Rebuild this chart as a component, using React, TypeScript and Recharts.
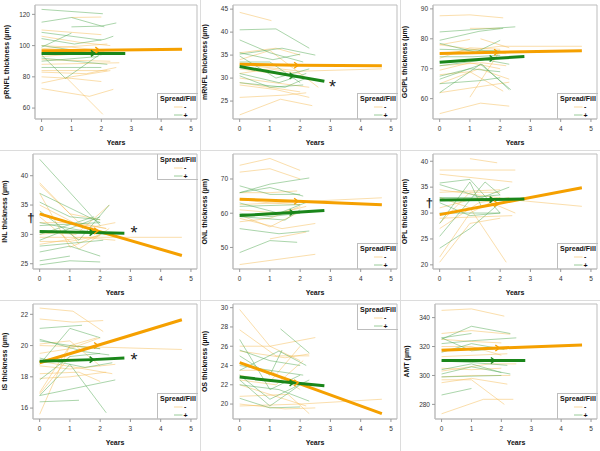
import React from 'react';
import { LineChart, Line, XAxis, YAxis, ReferenceArea, ReferenceDot } from 'recharts';

const FONT = '"Liberation Sans", Arial, sans-serif';
const years = [0, 1, 2, 3, 4, 5];
const xDomain: [number, number] = [-0.22, 5.2];

// ---------- pRNFL ----------
const prnflTicks = [60, 80, 100, 120];
const prnflOrange = [
  [1.0, 118, 2.0, 118.3],
  [0, 110, 2.0, 107],
  [0, 106, 1.3, 102, 2.3, 100],
  [0, 98, 2.2, 101],
  [0, 93, 2.1, 96],
  [0, 91, 2.3, 90],
  [0, 88, 2.6, 89],
  [0, 83, 1.5, 82, 2.5, 86],
  [0, 80, 1.0, 79, 2.0, 77],
  [0, 76, 1.0, 80, 2.3, 84],
  [0, 72.5, 1.6, 67.5, 2.4, 72],
  [0.8, 80, 2.05, 56],
  [0, 84, 1.2, 84, 2.2, 84],
  [0, 100, 1.0, 99, 2.0, 97],
];
const prnflGreen = [
  [0, 123.2, 2.05, 120.4],
  [0, 115, 1.0, 118, 2.1, 112],
  [1.0, 112, 2.0, 112.5, 2.5, 114.5],
  [0, 108.5, 2.0, 103.5],
  [0, 104.5, 1.1, 101, 2.1, 104, 2.4, 106],
  [0, 99, 1.0, 108],
  [0, 94, 0.8, 79, 2.0, 95],
  [0, 86, 1.5, 86, 2.0, 86],
  [0, 92, 2.2, 88],
  [0, 95, 1.7, 95.5, 2.3, 95],
  [0, 100, 1.1, 97, 2.0, 94],
  [0, 90, 1.9, 93],
];
const prnflFitOrange = [0, 96.7, 1.9, 97.1, 4.7, 97.6];
const prnflFitGreen = [0, 95, 1.75, 95, 2.8, 95];

// ---------- mRNFL ----------
const mrnflTicks = [25, 30, 35, 40, 45];
const mrnflOrange = [
  [0, 44.3, 1.05, 42.5],
  [0, 35.5, 1.2, 36.5, 2.0, 35],
  [0, 33, 2.0, 31.5, 4.7, 32],
  [0, 30, 2.3, 28],
  [0, 29, 1.0, 28, 2.0, 27],
  [0, 28.5, 1.2, 27.5, 2.3, 25.8],
  [0, 25.8, 1.5, 26.3, 2.2, 26.8],
  [0, 22, 1.35, 25.4, 2.4, 24],
  [0, 34, 1.0, 36, 2.6, 28],
  [0, 31, 1.0, 32, 2.0, 31],
  [0, 32, 2.3, 30],
];
const mrnflGreen = [
  [0, 40.5, 1.2, 40.7, 2.3, 36.5],
  [0, 38.3, 1.0, 35.5, 2.1, 33.5],
  [0, 35.2, 1.4, 36.5, 2.5, 35],
  [0, 35.5, 1.1, 34, 2.0, 35.2],
  [0, 34.8, 1.2, 30, 2.3, 32],
  [0, 33.5, 1.0, 33.5, 2.0, 29],
  [0, 31, 1.3, 29, 2.2, 31],
  [0, 30.5, 1.0, 28, 2.1, 28.5],
  [0, 29, 1.5, 28, 2.2, 30],
];
const mrnflFitOrange = [0, 33.0, 1.9, 32.8, 4.7, 32.7];
const mrnflFitGreen = [0, 32.5, 1.75, 30.5, 2.8, 29.3];

// ---------- GCIPL ----------
const gcplTicks = [60, 70, 80, 90];
const gcplOrange = [
  [0, 87.7, 1.0, 88, 2.1, 87],
  [0, 78, 1.0, 79.8],
  [1.0, 83.5, 2.0, 83.5],
  [0, 75, 2.0, 77.5, 4.7, 77.5],
  [1.35, 80, 2.3, 77],
  [0, 73.5, 1.0, 77, 2.0, 76.5],
  [0, 78, 2.2, 75],
  [0, 71, 1.4, 72, 2.2, 71],
  [0, 68, 1.0, 69, 2.1, 62.5],
  [0, 65, 1.3, 70, 2.3, 66.5],
  [0, 62, 2.3, 65.5],
  [0, 55, 1.35, 58.5, 2.3, 57.5],
  [1.0, 60.5, 2.0, 76],
  [0, 69.5, 1.0, 72, 2.0, 70],
];
const gcplGreen = [
  [0, 82.3, 1.0, 83, 2.5, 84],
  [0, 79.5, 1.3, 82.5, 2.1, 83.5],
  [0, 78.5, 1.2, 75.5, 2.0, 79.5],
  [0, 76.5, 2.0, 76],
  [0, 71, 1.5, 73, 2.3, 71.5],
  [0, 67.5, 1.0, 70, 2.0, 69],
  [0, 66.5, 1.4, 71.5, 2.3, 63],
  [0, 62, 1.35, 71.5, 2.35, 63],
  [0, 65, 1.3, 66, 2.0, 67],
  [0, 74, 1.1, 74, 2.0, 74.5],
];
const gcplFitOrange = [0, 75.1, 1.9, 75.5, 4.7, 76.0];
const gcplFitGreen = [0, 72.2, 1.75, 73.4, 2.8, 74.1];

// ---------- INL ----------
const inlTicks = [25, 30, 35, 40];
const inlOrange = [
  [0, 38.8, 1.0, 33.5, 2.0, 32.5],
  [0, 38.5, 1.3, 32, 2.2, 31],
  [0, 37, 1.0, 27.8, 2.0, 30],
  [0, 35, 1.5, 31, 2.5, 32],
  [0, 33, 1.3, 27.5, 2.3, 31],
  [0, 30.5, 1.2, 30, 2.3, 35],
  [0, 29.5, 2.0, 29.5, 4.7, 29.5],
  [0, 28.8, 1.0, 28.8, 2.0, 29.8],
  [0, 28.3, 1.4, 29.5, 2.5, 29],
  [0, 30, 1.0, 30.5, 1.3, 28.3],
  [0, 32, 1.0, 32, 2.2, 31],
];
const inlGreen = [
  [0, 42.8, 2.0, 31.5],
  [0, 37, 2.0, 32],
  [0, 35.5, 1.0, 33, 2.0, 32.5],
  [0, 34, 1.3, 29, 2.3, 35],
  [0, 32, 1.0, 31, 2.0, 33],
  [0, 31.5, 2.0, 32],
  [0, 30, 1.8, 33],
  [0, 28, 2.1, 29],
  [0, 27, 1.0, 28, 2.0, 26.3],
  [0, 25.5, 1.0, 26.3],
  [0, 24.8, 1.0, 25.5, 2.0, 25.3],
  [0, 29, 1.0, 31, 2.2, 30],
];
const inlFitOrange = [0, 33.5, 1.9, 30.6, 4.7, 26.4];
const inlFitGreen = [0, 30.5, 1.75, 30.3, 2.8, 30.2];

// ---------- ONL ----------
const onlTicks = [50, 60, 70];
const onlOrange = [
  [0, 74, 1.0, 76, 2.0, 72.5],
  [0, 72, 1.0, 73, 2.0, 70],
  [0, 66, 1.0, 66, 1.9, 66.5],
  [0, 64, 1.0, 63, 2.0, 62.5],
  [0, 62.5, 2.3, 63.5, 4.7, 64.5],
  [0, 61, 1.3, 60, 2.2, 62],
  [0, 59.5, 1.0, 56, 2.0, 60.5],
  [0, 57.5, 1.0, 58.5, 2.0, 62],
  [0, 58.5, 1.4, 55.5, 2.5, 57],
  [0, 45, 2.5, 48],
  [1.0, 52.5, 2.2, 54.5],
];
const onlGreen = [
  [0, 68, 1.0, 65.5, 2.0, 65.5],
  [0, 66, 1.0, 67.5, 2.1, 65],
  [0, 66, 1.0, 68.5, 2.3, 70.3],
  [0, 63, 1.3, 60, 2.3, 63.5],
  [0, 62, 2.0, 62.5],
  [0, 59, 1.5, 58, 2.0, 61],
  [0, 55.5, 1.3, 54, 2.3, 54.8],
  [0, 48.5, 1.0, 52, 1.9, 51.5],
  [0, 60, 1.0, 59, 2.0, 60],
];
const onlFitOrange = [0, 64.1, 1.9, 63.5, 4.7, 62.5];
const onlFitGreen = [0, 59.3, 1.75, 60.2, 2.8, 60.8];

// ---------- OPL ----------
const oplTicks = [20, 25, 30, 35, 40];
const oplOrange = [
  [1.0, 40.5, 1.9, 39.7],
  [0, 38.3, 2.5, 38.3],
  [0, 37.5, 2.4, 36],
  [0, 34.5, 2.5, 32.5, 4.7, 31.3],
  [0, 34, 2.0, 34.5],
  [0, 31, 1.3, 33, 2.5, 30],
  [0, 29, 2.4, 29.5],
  [0, 28, 1.0, 34, 2.0, 34],
  [0, 21.5, 1.0, 30, 2.0, 33],
  [0, 20.5, 1.0, 28, 2.0, 29],
  [0, 33, 1.0, 31, 2.2, 20.5],
  [0, 27, 1.3, 32, 2.3, 33],
];
const oplGreen = [
  [0, 35.8, 1.0, 36.5, 2.0, 30],
  [0, 35.5, 1.4, 33, 2.3, 35],
  [0, 33, 1.0, 33, 2.0, 33.5],
  [0, 28, 1.0, 36, 1.4, 31],
  [0, 25.5, 1.5, 36, 2.0, 33.5],
  [0, 23.2, 1.0, 27, 2.0, 32],
  [0, 30, 2.0, 30],
  [0, 32, 1.0, 29.5, 2.0, 30],
];
const oplFitOrange = [0, 29.7, 1.9, 31.8, 4.7, 34.9];
const oplFitGreen = [0, 32.5, 1.75, 32.6, 2.8, 32.7];

// ---------- IS ----------
const isTicks = [16, 18, 20, 22];
const isOrange = [
  [0, 22.4, 1.1, 22.2, 2.1, 20.9],
  [0, 21.7, 1.1, 21.5, 2.1, 21.6],
  [0, 20.1, 1.0, 20.3, 2.0, 18.7],
  [0, 20, 2.0, 19.9, 4.7, 19.75],
  [0, 19.5, 1.0, 19.8, 2.0, 20.5],
  [0, 19, 1.5, 18.5, 2.4, 18.2],
  [0, 18.7, 1.0, 18.5, 2.5, 18.8],
  [0, 17.9, 1.0, 18.0, 2.2, 18.3],
  [0, 17, 1.0, 20, 2.0, 19.8],
  [0, 16.9, 1.0, 19.3],
  [0, 15.6, 1.0, 20, 1.9, 20.5],
  [0, 18.2, 1.3, 18.3, 2.0, 17.7],
];
const isGreen = [
  [0, 21.1, 1.4, 21.3],
  [0, 20.3, 1.0, 20, 2.0, 19.8],
  [0, 20.4, 1.5, 19.6, 2.3, 19.4],
  [0, 18.8, 1.0, 21.1, 2.0, 20.5],
  [0, 17.8, 1.0, 19.3, 2.0, 19.5],
  [0, 16.8, 1.0, 18.8, 2.2, 15.7],
  [0, 16.4, 1.3, 16.5],
  [0, 16.8, 2.5, 17.8],
  [0, 19.2, 1.5, 18.6, 2.4, 18.9],
];
const isFitOrange = [0, 18.9, 1.9, 20.0, 4.7, 21.65];
const isFitGreen = [0, 19.0, 1.75, 19.1, 2.8, 19.2];

// ---------- OS ----------
const osTicks = [20, 22, 24, 26, 28, 30];
const osOrange = [
  [0, 29.8, 1.0, 26, 2.0, 24.5],
  [0, 27.7, 1.2, 25, 2.3, 25],
  [0, 26, 1.0, 26, 2.5, 26.9],
  [0, 25.5, 1.5, 24.8, 2.3, 25.2],
  [0, 23, 1.0, 22.3, 2.0, 26],
  [0, 22.5, 1.2, 22, 2.1, 24.5],
  [0, 22, 1.0, 21, 2.2, 19.8],
  [0, 20.8, 1.6, 21, 2.3, 19.0],
  [0, 19.8, 2.0, 20, 4.7, 20.5],
  [0, 20, 1.5, 19.5, 2.5, 19.6],
  [0, 23.5, 1.0, 23.5, 2.0, 21.5],
];
const osGreen = [
  [0, 26.7, 1.0, 21.5, 2.0, 23],
  [0, 25.6, 1.0, 24.5, 2.0, 24],
  [0, 25, 1.0, 23, 1.4, 25.6],
  [1.35, 27.8, 2.3, 25.3],
  [0, 23.5, 1.3, 25.5, 2.2, 24],
  [0, 22.5, 1.0, 19.8, 2.0, 22],
  [0, 22, 1.3, 21.5, 2.3, 20.3],
  [0, 20.6, 1.0, 19.6, 2.0, 19.7],
  [0, 24, 1.0, 23.5, 2.1, 23],
  [0, 23, 1.0, 20.5, 2.3, 22.5],
];
const osFitOrange = [0, 24.3, 1.9, 22.2, 4.7, 19.0];
const osFitGreen = [0, 22.8, 1.75, 22.2, 2.8, 21.9];

// ---------- AMT ----------
const amtTicks = [280, 300, 320, 340];
const amtOrange = [
  [0, 345, 1.0, 346, 2.1, 341],
  [0, 329, 1.0, 331, 2.3, 328.5],
  [0, 325, 1.0, 323.5, 2.0, 322.5],
  [0, 318, 1.0, 318, 2.2, 318],
  [0, 313, 2.2, 315],
  [0, 305, 1.0, 304, 2.0, 305],
  [0, 303, 1.6, 308, 2.5, 308],
  [0, 299, 1.0, 300, 2.3, 300],
  [0, 295, 1.0, 298, 2.2, 294],
  [0, 273.5, 1.4, 283.5, 2.4, 283.5],
  [0, 297, 1.0, 297, 2.1, 280],
  [0, 320, 1.0, 320, 2.0, 314],
];
const amtGreen = [
  [0, 325, 1.0, 334, 2.3, 329],
  [0, 326, 1.0, 329],
  [0, 322, 1.0, 324, 2.5, 326],
  [0, 326, 1.0, 317, 2.0, 319],
  [0, 316, 1.0, 322, 2.1, 318],
  [0, 310, 1.0, 309, 2.2, 307],
  [0, 304, 1.0, 308, 2.0, 302],
  [0, 301, 1.0, 306, 2.3, 301],
  [0, 286.5, 1.0, 291],
  [0, 299, 2.0, 300],
];
const amtFitOrange = [0, 317.5, 1.9, 319, 4.7, 321];
const amtFitGreen = [0, 310.3, 1.75, 310.3, 2.8, 310.3];

// ---------- styling ----------
const THIN_O = '#F5BE5A';
const THIN_G = '#58AC58';
const FIT_O = '#F5A000';
const FIT_G = '#1A861A';
const AXIS = '#bdbdbd';

type Cfg = {
  label: string;
  ticks: number[];
  domain: [number, number];
  yw: number;
  orange: number[][];
  green: number[][];
  fitO: number[];
  fitG: number[];
  legendTop?: boolean;
  star?: [number, number];
  dagger?: [number, number];
};

const panels: Cfg[] = [
  { label: 'pRNFL thickness (µm)', ticks: prnflTicks, domain: [53, 126], yw: 35, orange: prnflOrange, green: prnflGreen, fitO: prnflFitOrange, fitG: prnflFitGreen },
  { label: 'mRNFL thickness (µm)', ticks: mrnflTicks, domain: [21.1, 45.9], yw: 33, orange: mrnflOrange, green: mrnflGreen, fitO: mrnflFitOrange, fitG: mrnflFitGreen, star: [3.07, 29.1] },
  { label: 'GCIPL thickness (µm)', ticks: gcplTicks, domain: [53.2, 91.3], yw: 33, orange: gcplOrange, green: gcplGreen, fitO: gcplFitOrange, fitG: gcplFitGreen },
  { label: 'INL thickness (µm)', ticks: inlTicks, domain: [24.1, 43.7], yw: 33, orange: inlOrange, green: inlGreen, fitO: inlFitOrange, fitG: inlFitGreen, legendTop: true, star: [3.12, 31.0], dagger: [-0.29, 32.75] },
  { label: 'ONL thickness (µm)', ticks: onlTicks, domain: [43.7, 77.3], yw: 33, orange: onlOrange, green: onlGreen, fitO: onlFitOrange, fitG: onlFitGreen },
  { label: 'OPL thickness (µm)', ticks: oplTicks, domain: [19.2, 41.4], yw: 33, orange: oplOrange, green: oplGreen, fitO: oplFitOrange, fitG: oplFitGreen, dagger: [-0.34, 31.9] },
  { label: 'IS thickness (µm)', ticks: isTicks, domain: [15.3, 22.66], yw: 33, orange: isOrange, green: isGreen, fitO: isFitOrange, fitG: isFitGreen, star: [3.12, 19.35] },
  { label: 'OS thickness (µm)', ticks: osTicks, domain: [18.45, 30.38], yw: 33, orange: osOrange, green: osGreen, fitO: osFitOrange, fitG: osFitGreen, legendTop: true },
  { label: 'AMT (µm)', ticks: amtTicks, domain: [269.9, 349.4], yw: 35, orange: amtOrange, green: amtGreen, fitO: amtFitOrange, fitG: amtFitGreen },
];

const toPts = (a: number[]) => {
  const r: { x: number; y: number }[] = [];
  for (let i = 0; i < a.length; i += 2) r.push({ x: a[i], y: a[i + 1] });
  return r;
};
const toFit = (a: number[]) =>
  toPts(a).map((p, i) => ({ ...p, arrow: i === 1 }));

const makeArrowDot = (color: string) => (p: any) => {
  const k = `arrow-${p.index}`;
  if (!p.payload || !p.payload.arrow || p.cx == null) return <g key={k} />;
  const { cx, cy } = p;
  return (
    <path
      key={k}
      d={`M${cx - 3},${cy - 3} L${cx + 1},${cy} L${cx - 3},${cy + 3}`}
      stroke={color}
      strokeWidth={1.4}
      fill="none"
    />
  );
};

function LegendBox({ top, mt }: { top?: boolean; mt: number }) {
  const h = 26;
  const y0 = top ? mt : 119 - h;
  return (
    <svg
      width={41}
      height={h + 1}
      style={{ position: 'absolute', left: 156.5, top: y0, overflow: 'visible' }}
    >
      <line x1={0.5} y1={0} x2={0.5} y2={h} stroke={AXIS} />
      {top ? (
        <line x1={0.5} y1={h - 0.5} x2={41} y2={h - 0.5} stroke={AXIS} />
      ) : (
        <line x1={0.5} y1={0.5} x2={41} y2={0.5} stroke={AXIS} />
      )}
      <text x={21} y={8} textAnchor="middle" fontSize={7} fontWeight="bold" fontFamily={FONT} fill="#111">
        Spread/Fill
      </text>
      <line x1={17} y1={14} x2={25.5} y2={14} stroke={THIN_O} strokeOpacity={0.6} strokeWidth={1} />
      <text x={27} y={16.2} fontSize={7} fontWeight="bold" fontFamily={FONT} fill="#111">-</text>
      <line x1={17} y1={22} x2={25.5} y2={22} stroke={THIN_G} strokeOpacity={0.6} strokeWidth={1} />
      <text x={26.5} y={24.5} fontSize={7} fontWeight="bold" fontFamily={FONT} fill="#111">+</text>
    </svg>
  );
}

function Panel({ cfg, left, top, mt }: { cfg: Cfg; left: number; top: number; mt: number }) {
  const tickStyle = { fontSize: 6.5, fill: '#333', fontFamily: FONT };
  return (
    <div style={{ position: 'absolute', left, top, width: 200, height: 150 }}>
      <LineChart width={200} height={150} margin={{ top: mt, right: 3, bottom: 0, left: 0 }}>
        <XAxis
          type="number"
          dataKey="x"
          domain={xDomain}
          ticks={years}
          allowDataOverflow
          height={31}
          tick={tickStyle}
          tickSize={3}
          tickMargin={4}
          axisLine={{ stroke: AXIS }}
          tickLine={{ stroke: '#999' }}
          label={{ value: 'Years', position: 'insideBottom', offset: 5, fontSize: 7, fontWeight: 'bold', fill: '#111', fontFamily: FONT }}
        />
        <YAxis
          type="number"
          dataKey="y"
          domain={cfg.domain}
          ticks={cfg.ticks}
          allowDataOverflow
          width={cfg.yw}
          tick={tickStyle}
          tickSize={3}
          tickMargin={2}
          axisLine={{ stroke: AXIS }}
          tickLine={{ stroke: '#999' }}
          label={{
            value: cfg.label,
            angle: -90,
            position: 'insideLeft',
            offset: cfg.yw - 28,
            fontSize: 7,
            fontWeight: 'bold',
            fill: '#111',
            fontFamily: FONT,
            style: { textAnchor: 'middle' },
          }}
        />
        <ReferenceArea
          x1={xDomain[0]}
          x2={xDomain[1]}
          y1={cfg.domain[0]}
          y2={cfg.domain[1]}
          fill="none"
          stroke={AXIS}
          strokeWidth={1}
          ifOverflow="visible"
        />
        {cfg.orange.map((l, i) => (
          <Line
            key={`o${i}`}
            data={toPts(l)}
            dataKey="y"
            type="linear"
            stroke={THIN_O}
            strokeOpacity={0.5}
            strokeWidth={1}
            dot={false}
            activeDot={false}
            isAnimationActive={false}
          />
        ))}
        {cfg.green.map((l, i) => (
          <Line
            key={`g${i}`}
            data={toPts(l)}
            dataKey="y"
            type="linear"
            stroke={THIN_G}
            strokeOpacity={0.5}
            strokeWidth={1}
            dot={false}
            activeDot={false}
            isAnimationActive={false}
          />
        ))}
        <Line
          data={toFit(cfg.fitO)}
          dataKey="y"
          type="linear"
          stroke={FIT_O}
          strokeWidth={3}
          dot={makeArrowDot(FIT_O)}
          activeDot={false}
          isAnimationActive={false}
        />
        <Line
          data={toFit(cfg.fitG)}
          dataKey="y"
          type="linear"
          stroke={FIT_G}
          strokeWidth={3}
          dot={makeArrowDot(FIT_G)}
          activeDot={false}
          isAnimationActive={false}
        />
        {cfg.star && (
          <ReferenceDot
            x={cfg.star[0]}
            y={cfg.star[1]}
            r={0}
            ifOverflow="visible"
            shape={(p: any) => (
              <text x={p.cx} y={p.cy + 10.5} textAnchor="middle" fontSize={18} fontFamily={FONT} fill="#222">
                *
              </text>
            )}
          />
        )}
        {cfg.dagger && (
          <ReferenceDot
            x={cfg.dagger[0]}
            y={cfg.dagger[1]}
            r={0}
            ifOverflow="visible"
            shape={(p: any) => (
              <text x={p.cx} y={p.cy + 4} textAnchor="middle" fontSize={13} fontWeight="bold" fontFamily={FONT} fill="#222">
                †
              </text>
            )}
          />
        )}
      </LineChart>
      <LegendBox top={cfg.legendTop} mt={mt} />
    </div>
  );
}

export default function App() {
  return (
    <div
      style={{
        position: 'absolute',
        left: 0,
        top: 0,
        width: 600,
        height: 451,
        background: '#fff',
        fontFamily: FONT,
        overflow: 'hidden',
      }}
    >
      {panels.map((cfg, i) => {
        const row = Math.floor(i / 3);
        const col = i % 3;
        return <Panel key={i} cfg={cfg} left={col * 200} top={row * 150} mt={row === 0 ? 5 : 4} />;
      })}
      <div style={{ position: 'absolute', left: 199.5, top: 0, width: 1, height: 451, background: '#dcdcdc' }} />
      <div style={{ position: 'absolute', left: 399.5, top: 0, width: 1, height: 451, background: '#dcdcdc' }} />
      <div style={{ position: 'absolute', left: 0, top: 150, width: 600, height: 1, background: '#dcdcdc' }} />
      <div style={{ position: 'absolute', left: 0, top: 300, width: 600, height: 1, background: '#dcdcdc' }} />
    </div>
  );
}
